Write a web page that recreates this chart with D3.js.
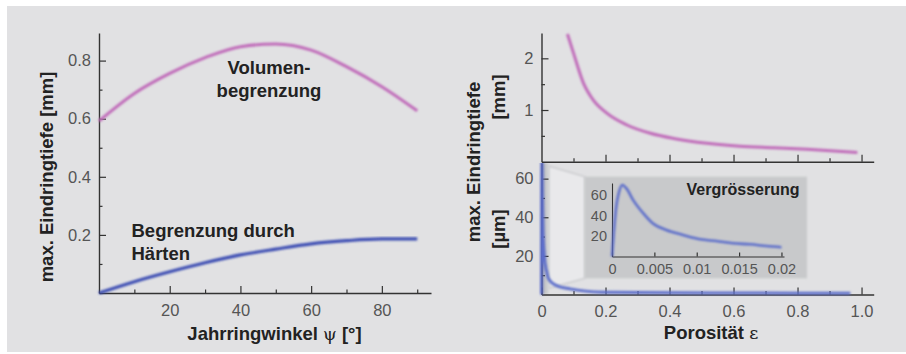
<!DOCTYPE html>
<html>
<head>
<meta charset="utf-8">
<script src="https://cdn.jsdelivr.net/npm/d3@7"></script>
<style>
body{margin:0;background:#fff;}
text{font-family:"Liberation Sans",Arial,Helvetica,sans-serif;}
</style>
</head>
<body>
<script>
const W = 906, H = 354;

// left chart: max. penetration depth vs. growth ring angle
const angle = [0,10,20,30,40,50,60,70,80,90];
const volumeDepth = [0.592,0.687,0.756,0.81,0.848,0.857,0.836,0.779,0.71,0.627];
const hardDepth = [0,0.039,0.073,0.104,0.131,0.151,0.169,0.18,0.186,0.186];

// right top: depth [mm] vs porosity
const porTop = [0.081,0.1,0.131,0.162,0.204,0.267,0.34,0.413,0.517,0.62,0.726,0.83,0.987];
const depthTop = [2.47,2.10,1.52,1.19,0.94,0.71,0.55,0.45,0.356,0.30,0.27,0.24,0.18];

// right bottom: depth [µm] vs porosity (zoomed part and the rest)
const porZoom = [0,0.0002,0.0005,0.0008,0.00122,0.0017,0.0025,0.0037,0.0048,0.0064,0.0084,0.0104,0.0123,0.0143,0.0163,0.0182,0.02];
const depthZoom = [0,22,48.6,62,69.8,66.5,55,42,32.4,25.9,21,16.8,15.1,12.9,11.9,10.2,9];
const porWide = [0.026,0.047,0.089,0.19,0.4,0.6,0.8,0.965];
const depthWide = [7.2,4.6,2.9,1.2,0.9,0.8,0.7,0.6];

// ticks
const leftXTicks = [20,40,60,80], leftXMinor = [10,30,50,70,90];
const leftYTicks = [0.2,0.4,0.6,0.8], leftYMinor = [0.1,0.3,0.5,0.7];
const porTicks = [0,0.2,0.4,0.6,0.8,1.0], porMinor = [0.1,0.3,0.5,0.7,0.9];
const mmTicks = [1,2], mmMinor = [0.5,1.5];
const umTicks = [20,40,60], umMinor = [10,30,50];
const zoomXTicks = [0,0.005,0.01,0.015,0.02], zoomYTicks = [20,40,60];

const PINK = "#c06bb9", BLUE = "#3a4cb2", BLUE2 = "#5c6dca";
const AXIS = "#333", TICKTXT = "#555", LABEL = "#222";

const svg = d3.select("body").append("svg").attr("width", W).attr("height", H);
const defs = svg.append("defs");
defs.append("filter").attr("id","soft").attr("x","-5%").attr("y","-5%").attr("width","110%").attr("height","110%")
  .append("feGaussianBlur").attr("stdDeviation", 0.85);
const grad = defs.append("linearGradient").attr("id","band");
grad.append("stop").attr("offset","0%").attr("stop-color","#aeb0b4");
grad.append("stop").attr("offset","100%").attr("stop-color","#d6d7d9");

svg.append("rect").attr("x",7).attr("y",6).attr("width",W-7).attr("height",346).attr("fill","#e1e1e3");

function styleAxis(g, fs){
  g.select(".domain").attr("stroke", AXIS).attr("stroke-width", 1.4);
  g.selectAll(".tick line").attr("stroke", AXIS).attr("stroke-width", 1.2);
  g.selectAll(".tick text").attr("fill", TICKTXT).style("font-size", fs + "px").style("font-family", '"Liberation Sans",Arial,sans-serif');
}
function minor(g){ g.select(".domain").remove(); g.selectAll(".tick line").attr("stroke", AXIS).attr("stroke-width",1.2); g.selectAll("text").remove(); }

// ---------- left chart ----------
const xL = d3.scaleLinear().domain([0,93.9]).range([99,431]);
const yL = d3.scaleLinear().domain([0,0.895]).range([293,33]);
const left = svg.append("g");

left.append("g").attr("transform","translate(0,293)")
  .call(d3.axisBottom(xL).tickValues(leftXMinor).tickSize(-3.5).tickSizeOuter(0)).call(minor);
left.append("g").attr("transform","translate(99,0)")
  .call(d3.axisLeft(yL).tickValues(leftYMinor).tickSize(-3.5).tickSizeOuter(0)).call(minor);
left.append("g").attr("transform","translate(0,293)")
  .call(d3.axisBottom(xL).tickValues(leftXTicks).tickSize(-7).tickSizeOuter(0).tickPadding(11).tickFormat(d3.format("d")))
  .call(g => styleAxis(g, 16.5));
left.append("g").attr("transform","translate(99,0)")
  .call(d3.axisLeft(yL).tickValues(leftYTicks).tickSize(-7).tickSizeOuter(0).tickPadding(8).tickFormat(d3.format(".1f")))
  .call(g => styleAxis(g, 16.5));

const lineL = d3.line().curve(d3.curveMonotoneX);
left.append("path").attr("d", lineL(angle.map((a,i)=>[xL(a), yL(volumeDepth[i])])))
  .attr("fill","none").attr("stroke",PINK).attr("stroke-width",3).attr("filter","url(#soft)");
left.append("path").attr("d", lineL(angle.map((a,i)=>[xL(a), yL(hardDepth[i])])))
  .attr("fill","none").attr("stroke",BLUE).attr("stroke-width",3.2).attr("filter","url(#soft)");

const lbl = (g, x, y, t, fs, anchor) => g.append("text").attr("x",x).attr("y",y).attr("text-anchor",anchor||"middle")
  .attr("fill",LABEL).style("font-size",fs+"px").style("font-weight","bold").text(t);
// label with a serif greek symbol in the middle
const lblSym = (g, x, y, before, sym, after, fs) => {
  const t = g.append("text").attr("x",x).attr("y",y).attr("text-anchor","middle")
    .attr("fill",LABEL).style("font-size",fs+"px").style("font-weight","bold");
  t.append("tspan").text(before);
  t.append("tspan").style("font-family",'"DejaVu Serif","Liberation Serif",serif').style("font-weight","normal")
    .style("font-size",(fs-1)+"px").text(sym);
  t.append("tspan").text(after);
  return t;
};
lbl(left, 269, 74, "Volumen-", 18.5);
lbl(left, 269, 97, "begrenzung", 18.5);
lbl(left, 131.5, 237, "Begrenzung durch", 18.5, "start");
lbl(left, 131.5, 260, "Härten", 18.5, "start");
lblSym(left, 274.5, 340, "Jahrringwinkel ", "ψ", " [°]", 18.5);
lbl(left, 0, 0, "max. Eindringtiefe [mm]", 18.5).attr("transform","translate(53,177) rotate(-90)");

// ---------- right chart ----------
const xR = d3.scaleLinear().domain([0,1.038]).range([541.5,873.7]);
const yT = d3.scaleLinear().domain([0,2.49]).range([161.7,33]);
const yB = d3.scaleLinear().domain([0,68.1]).range([294.5,163]);
const right = svg.append("g");

// zoom connector: band over [0,0.02] and the trapezoid to the inset
const xI = d3.scaleLinear().domain([0,0.0203]).range([612,784]);
const yI = d3.scaleLinear().domain([0,71.7]).range([256.5,183]);
const inset = {x0:584.7, x1:807, y0:176.7, y1:278.3};

right.append("polygon")
  .attr("points", [[xR(0.02)+1, yB(66.5)],[inset.x0, inset.y0],[inset.x0, inset.y1],[xR(0.02)+1, yB(3.3)]].join(" "))
  .attr("fill","#e9e9eb").attr("stroke","#c4c5c8").attr("stroke-width",1.2).attr("filter","url(#soft)");
right.append("rect").attr("x",xR(0)).attr("y",yB(68.1)).attr("width",xR(0.02)-xR(0)+1).attr("height",yB(0)-yB(68.1))
  .attr("fill","url(#band)").attr("filter","url(#soft)");

// axes
right.append("g").attr("transform","translate(0,161.7)")
  .call(d3.axisBottom(xR).tickValues(porMinor).tickSize(-3.5).tickSizeOuter(0)).call(minor);
right.append("g").attr("transform","translate(0,294.5)")
  .call(d3.axisBottom(xR).tickValues(porMinor).tickSize(-3.5).tickSizeOuter(0)).call(minor);
right.append("g").attr("transform","translate(541.5,0)")
  .call(d3.axisLeft(yT).tickValues(mmMinor).tickSize(-3.5).tickSizeOuter(0)).call(minor);
right.append("g").attr("transform","translate(541.5,0)")
  .call(d3.axisLeft(yB).tickValues(umMinor).tickSize(-3.5).tickSizeOuter(0)).call(minor);

right.append("g").attr("transform","translate(0,161.7)")
  .call(d3.axisBottom(xR).tickValues(porTicks.slice(1)).tickSize(-7).tickSizeOuter(0).tickFormat(""))
  .call(g => styleAxis(g, 16.5));
right.append("g").attr("transform","translate(0,294.5)")
  .call(d3.axisBottom(xR).tickValues(porTicks).tickSize(-7).tickSizeOuter(0).tickPadding(11)
    .tickFormat(d => d === 0 ? "0" : d3.format(".1f")(d)))
  .call(g => styleAxis(g, 16.5));
right.append("g").attr("transform","translate(541.5,0)")
  .call(d3.axisLeft(yT).tickValues(mmTicks).tickSize(-7).tickSizeOuter(0).tickPadding(8).tickFormat(d3.format("d")))
  .call(g => styleAxis(g, 16.5));
right.append("g").attr("transform","translate(541.5,0)")
  .call(d3.axisLeft(yB).tickValues(umTicks).tickSize(-7).tickSizeOuter(0).tickPadding(8).tickFormat(d3.format("d")))
  .call(g => styleAxis(g, 16.5));

// curves
const lineR = d3.line().curve(d3.curveMonotoneX);
right.append("path").attr("d", lineR(porTop.map((p,i)=>[xR(p), yT(depthTop[i])])))
  .attr("fill","none").attr("stroke",PINK).attr("stroke-width",3).attr("filter","url(#soft)");

defs.append("clipPath").attr("id","clipB").append("rect")
  .attr("x",xR(0)-3).attr("y",yB(68.1)).attr("width",340).attr("height",yB(0)-yB(68.1)+3);
const porAll = porZoom.concat(porWide), depthAll = depthZoom.concat(depthWide);
right.append("g").attr("clip-path","url(#clipB)")
  .append("path").attr("d", lineR(porAll.map((p,i)=>[xR(p), yB(depthAll[i])])))
  .attr("fill","none").attr("stroke",BLUE2).attr("stroke-width",3).attr("filter","url(#soft)");
right.append("line").attr("x1",xR(0)+1).attr("x2",xR(0)+1).attr("y1",yB(0)).attr("y2",yB(68.1))
  .attr("stroke",BLUE).attr("stroke-width",2.5).attr("filter","url(#soft)");

// inset
const ins = right.append("g");
ins.append("rect").attr("x",inset.x0).attr("y",inset.y0).attr("width",inset.x1-inset.x0).attr("height",inset.y1-inset.y0)
  .attr("fill","#c8c9cb").attr("filter","url(#soft)");
ins.append("g").attr("transform","translate(0,256.5)")
  .call(d3.axisBottom(xI).tickValues(zoomXTicks).tickSize(-4).tickSizeOuter(0).tickPadding(7)
    .tickFormat(d => d === 0 ? "0" : String(d)))
  .call(g => styleAxis(g, 14.5));
ins.append("g").attr("transform","translate(612,0)")
  .call(d3.axisLeft(yI).tickValues(zoomYTicks).tickSize(0).tickSizeOuter(0).tickPadding(5).tickFormat(d3.format("d")))
  .call(g => styleAxis(g, 14.5));
ins.selectAll(".domain").attr("stroke-width",1.1);
ins.append("path").attr("d", lineR(porZoom.map((p,i)=>[xI(p), yI(depthZoom[i])])))
  .attr("fill","none").attr("stroke",BLUE2).attr("stroke-width",2.6).attr("filter","url(#soft)");
lbl(ins, 799.5, 194.5, "Vergrösserung", 16, "end");

// labels
lblSym(right, 711, 339, "Porosität ", "ε", "", 18.5);
lbl(right, 0, 0, "max. Eindringtiefe", 18.5).attr("transform","translate(480,162) rotate(-90)");
lbl(right, 0, 0, "[mm]", 18.5).attr("transform","translate(505,97) rotate(-90)");
lbl(right, 0, 0, "[µm]", 18.5).attr("transform","translate(505,229) rotate(-90)");
</script>
</body>
</html>
